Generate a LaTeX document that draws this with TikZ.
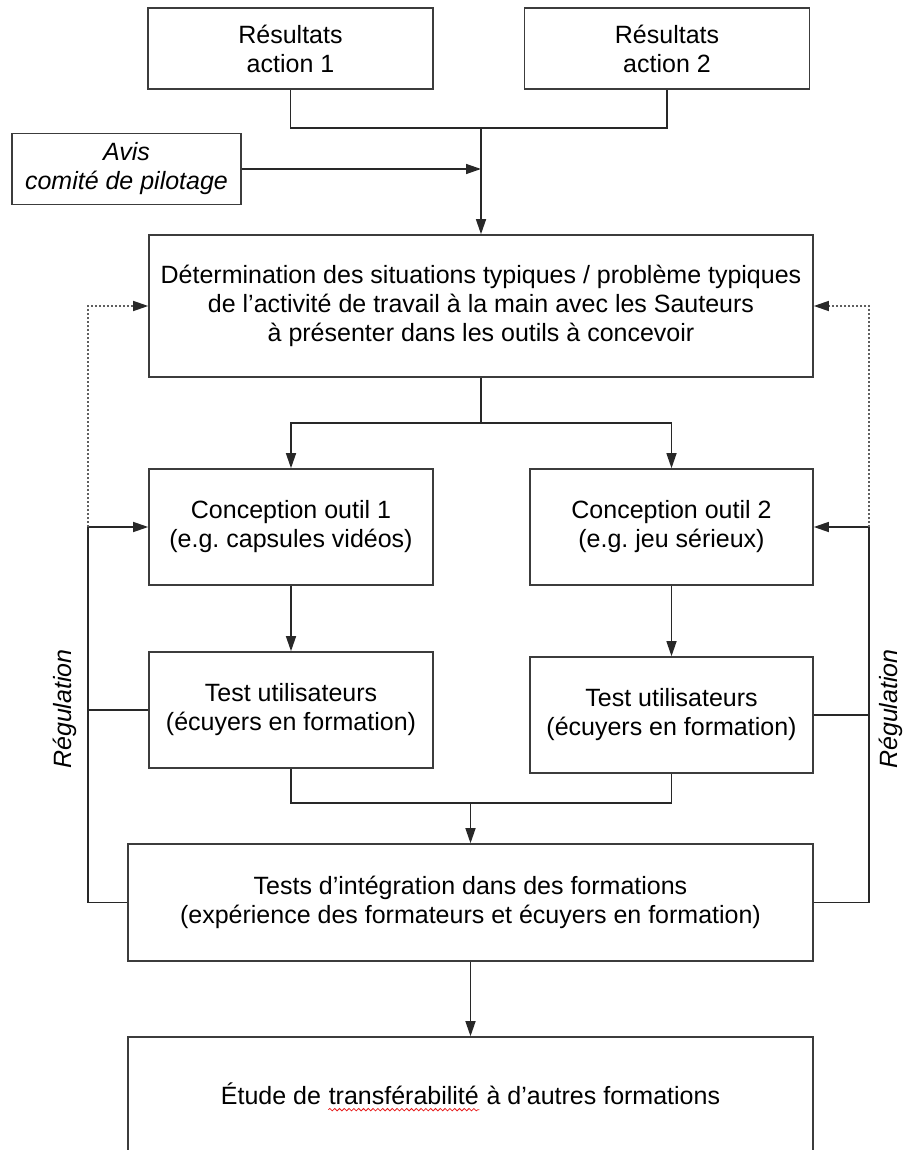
\documentclass[tikz,border=0pt]{standalone}
\usepackage{fontspec}
\setmainfont{Liberation Sans}
\usetikzlibrary{arrows.meta,calc,decorations.pathmorphing}
\definecolor{frame}{RGB}{60,60,60}
\definecolor{link}{RGB}{40,40,40}
\definecolor{soft}{RGB}{95,95,95}
\definecolor{spell}{RGB}{230,30,30}
\frenchspacing
\newcommand\spellwave[1]{\tikz[baseline=(w.base),x=1pt,y=1pt]{%
  \node[inner sep=0pt,minimum width=0pt,minimum height=0pt,draw=none,align=left] (w) {#1};
  \draw[spell,line width=0.4pt,decorate,decoration={snake,amplitude=0.6pt,segment length=2.4pt}]
    ([yshift=-2.6pt]w.base west) -- ([yshift=-2.6pt]w.base east);}}

\begin{document}
\begin{tikzpicture}[x=0.5pt,y=-0.5pt,
  box/.style={draw=frame,line width=0.8pt,align=center,inner sep=2pt,
    font=\fontsize{12.5}{14.5}\selectfont},
  ln/.style={draw=link,line width=0.7pt},
  arr/.style={ln,-{Triangle[length=7.5pt,width=5pt]}},
  reg/.style={draw=soft,line width=0.7pt,dash pattern=on 1pt off 1pt,
    -{Triangle[length=7.5pt,width=5pt,color=link]}},
  lbl/.style={rotate=90,font=\fontsize{12.5}{14.5}\selectfont\itshape}]
 \clip (0,0) rectangle (906,1150);
 % inputs
 \node[box,minimum width=142.5pt,minimum height=40.5pt] (res1) at (290.5,48.5) {Résultats\\action 1};
 \node[box,minimum width=142.5pt,minimum height=40.5pt] (res2) at (667,48.5) {Résultats\\action 2};
 \node[box,minimum width=114.5pt,minimum height=35.5pt,font=\fontsize{12.5}{14.5}\selectfont\itshape] (avis) at (126.5,169) {Avis\\comité de pilotage};
 \node[box,minimum width=332pt,minimum height=71pt] (det) at (481,306)
   {Détermination des situations typiques / problème typiques\\de l’activité de travail à la main avec les Sauteurs\\à présenter dans les outils à concevoir};
 \coordinate (j1) at (481,128);
 \draw[ln] (res1.south) |- (j1) -| (res2.south);
 \draw[arr] (j1) -- (det.north);
 \draw[arr] (avis.east) -- (avis.east -| det.north);
 % tools
 \node[box,minimum width=142pt,minimum height=58pt] (con1) at (291,527) {Conception outil 1\\(e.g. capsules vidéos)};
 \node[box,minimum width=141.5pt,minimum height=58pt] (con2) at (671.5,527) {Conception outil 2\\(e.g. jeu sérieux)};
 \node[box,minimum width=142pt,minimum height=58pt] (test1) at (291,710) {Test utilisateurs\\(écuyers en formation)};
 \node[box,minimum width=141.5pt,minimum height=58pt] (test2) at (671.5,715) {Test utilisateurs\\(écuyers en formation)};
 \coordinate (j2) at (481,423);
 \draw[ln] (det.south) -- (j2);
 \draw[arr] (j2) -| (con1.north);
 \draw[arr] (j2) -| (con2.north);
 \draw[arr] (con1) -- (test1);
 \draw[arr] (con2) -- (test2);
 % integration
 \node[box,minimum width=342.5pt,minimum height=58.5pt] (integ) at (470.5,902.5)
   {Tests d’intégration dans des formations\\(expérience des formateurs et écuyers en formation)};
 \node[box,minimum width=342.5pt,minimum height=60pt] (etude) at (470.5,1097)
   {Étude de \spellwave{transférabilité} à d’autres formations};
 \coordinate (j3) at (470.5,803);
 \draw[ln] (test1.south) |- (j3) -| (test2.south);
 \draw[arr] (j3) -- (integ.north);
 \draw[arr] (integ.south) -- (etude.north);
 % regulation loops
 \coordinate (regL) at (88,527);
 \coordinate (regR) at (869,527);
 \draw[arr] (integ.west) -| (regL) -- (con1.west);
 \draw[ln] (test1.west) -- (test1.west -| regL);
 \draw[reg] (regL) |- (det.west);
 \draw[arr] (integ.east) -| (regR) -- (con2.east);
 \draw[ln] (test2.east) -- (test2.east -| regR);
 \draw[reg] (regR) |- (det.east);
 \node[lbl] (regLtxt) at (65,709) {Régulation};
 \node[lbl] (regRtxt) at (891,709) {Régulation};
\end{tikzpicture}
\end{document}
